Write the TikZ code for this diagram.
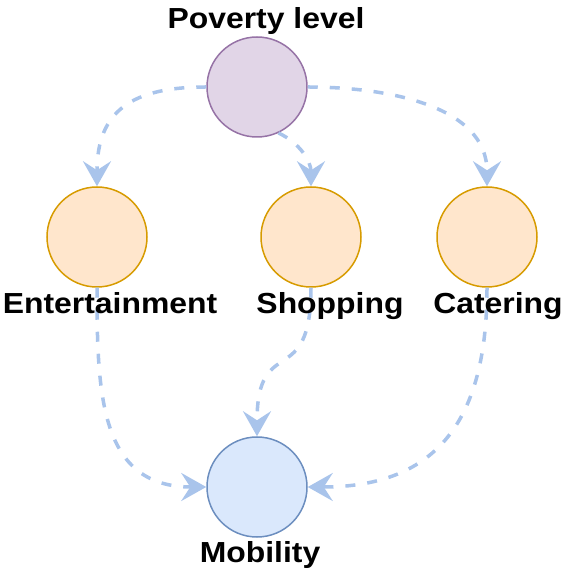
\documentclass[tikz,border=0pt]{standalone}
\usepackage{fontspec}
\setmainfont{Liberation Sans}
\newfontfamily\lblfont{Liberation Sans}[FakeStretch=1.1]
\usetikzlibrary{arrows.meta}
\definecolor{edgeblue}{HTML}{A9C4EB}
\definecolor{povfill}{HTML}{E1D5E7}
\definecolor{povline}{HTML}{9673A6}
\definecolor{catfill}{HTML}{FFE6CC}
\definecolor{catline}{HTML}{D79B00}
\definecolor{mobfill}{HTML}{DAE8FC}
\definecolor{mobline}{HTML}{6C8EBF}
\tikzset{every picture/.style={line width=0.75pt}}

\begin{document}
\begin{tikzpicture}[x=1pt, y=1pt, font=\lblfont\bfseries\fontsize{29}{34}\selectfont,
    circ/.style={circle, minimum size=100pt, inner sep=0pt, line width=1.5pt},
    pov/.style={circ, draw=povline, fill=povfill},
    cat/.style={circ, draw=catline, fill=catfill},
    mob/.style={circ, draw=mobline, fill=mobfill},
    lbl/.style={anchor=base},
    flow/.style={draw=edgeblue, line width=3.5pt, dash pattern=on 10pt off 12pt,
        -{Stealth[length=25pt, width=28pt, inset=9pt, sep=0pt]}}]
    \useasboundingbox (0,0) rectangle (566,570);

    \node[pov] (P) at (257,483) {};
    \node[cat] (E) at (97,333) {};
    \node[cat] (S) at (311,333) {};
    \node[cat] (C) at (487,333) {};
    \node[mob] (M) at (257,83) {};

    \draw[flow] (P.west) to[out=180, in=90, looseness=1.3] (E.north);
    \draw[flow] (P.-65) to[out=-25, in=90] (S.north);
    \draw[flow] (P.east) to[out=0, in=90] (C.north);
    \draw[flow] (E.south) to[out=-90, in=180, looseness=1.2] (M.west);
    \draw[flow] (S.south) to[out=-90, in=90, looseness=1.7] (M.north);
    \draw[flow] (C.south) to[out=-90, in=0, looseness=1.25] (M.east);

    \node[lbl] (Plbl) at (266,541) {Poverty level};
    \node[lbl] (Elbl) at (110,256) {Entertainment};
    \node[lbl] (Slbl) at (330,256) {Shopping};
    \node[lbl] (Clbl) at (498,256) {Catering};
    \node[lbl] (Mlbl) at (260,7) {Mobility};
\end{tikzpicture}
\end{document}
